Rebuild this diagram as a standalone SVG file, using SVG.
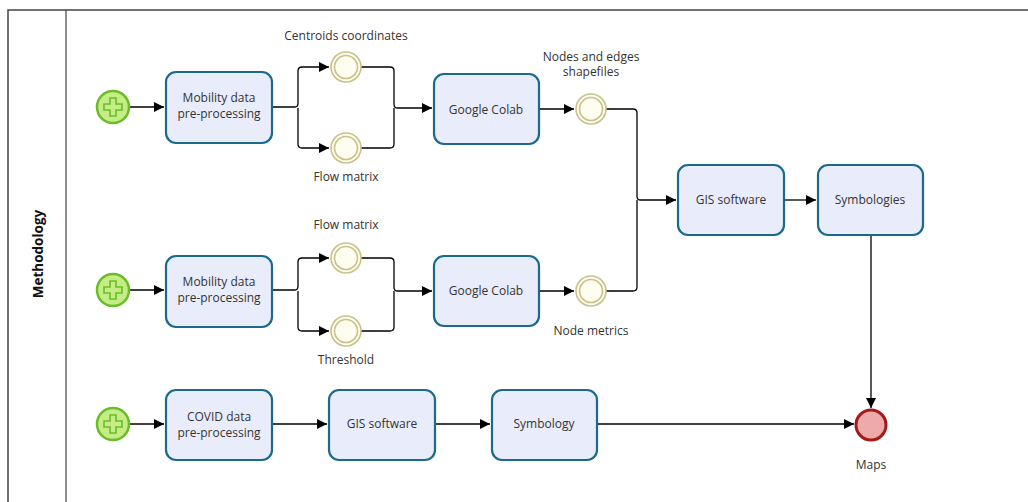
<svg xmlns="http://www.w3.org/2000/svg" width="1028" height="502" viewBox="0 0 1028 502">
<defs>
<marker id="arr" markerWidth="10" markerHeight="10" refX="10" refY="5" orient="auto" markerUnits="userSpaceOnUse">
<path d="M0,0 L10,5 L0,10 z" fill="#000"/>
</marker>
<path id="plus" d="M-3,-9 H3 V-3 H9 V3 H3 V9 H-3 V3 H-9 V-3 H-3 z"/>
</defs>
<style>
text{font-family:"Open Sans","Noto Sans","Liberation Sans",sans-serif;font-size:12px;fill:#333;text-anchor:middle}
.task{fill:#e9edfb;stroke:#1b6a8e;stroke-width:2.2}
.start{fill:#c5ec85;stroke:#6abd2a;stroke-width:2.5}
.plus{fill:none;stroke:#6abd2a;stroke-width:1.6}
.ev{fill:#fffcf0;stroke:#c8c28a;stroke-width:1.6}
.end{fill:#eeaaaa;stroke:#a31a1a;stroke-width:3}
.c{fill:none;stroke:#000;stroke-width:1.3}
.pool{fill:none;stroke:#444;stroke-width:1.5}
</style>
<g id="pool">
<path class="pool" d="M1028,10 H8 V502"/>
<path d="M66,10 V502" stroke="#444" stroke-width="1.2"/>
<text x="0" y="0" transform="translate(43,254) rotate(-90)" style="font-weight:bold;font-size:13.5px;fill:#111">Methodology</text>
</g>
<g id="connectors">
<path class="c" d="M129,107 H164" marker-end="url(#arr)"/>
<path class="c" d="M272,107 H295 q3,0 3,-4 V71 q0,-4 4,-4 H329" marker-end="url(#arr)"/>
<path class="c" d="M298,108 V144 q0,4 4,4 H329" marker-end="url(#arr)"/>
<path class="c" d="M361,67 H390 q4,0 4,4 V104 q0,4 3,4 H432" marker-end="url(#arr)"/>
<path class="c" d="M361,148 H390 q4,0 4,-4 V108"/>
<path class="c" d="M539,109 H574" marker-end="url(#arr)"/>
<path class="c" d="M606,109 H633 q4,0 4,4 V196 q0,4 3,4 H676" marker-end="url(#arr)"/>
<path class="c" d="M606,291 H633 q4,0 4,-4 V200"/>
<path class="c" d="M784,200 H816" marker-end="url(#arr)"/>
<path class="c" d="M871,235 V408" marker-end="url(#arr)"/>
<path class="c" d="M129,290 H164" marker-end="url(#arr)"/>
<path class="c" d="M272,290 H295 q3,0 3,-4 V262 q0,-4 4,-4 H329" marker-end="url(#arr)"/>
<path class="c" d="M298,291 V327 q0,4 4,4 H329" marker-end="url(#arr)"/>
<path class="c" d="M361,258 H390 q4,0 4,4 V287 q0,4 3,4 H432" marker-end="url(#arr)"/>
<path class="c" d="M361,331 H390 q4,0 4,-4 V291"/>
<path class="c" d="M539,291 H574" marker-end="url(#arr)"/>
<path class="c" d="M129,424 H164" marker-end="url(#arr)"/>
<path class="c" d="M272,424 H327" marker-end="url(#arr)"/>
<path class="c" d="M435,424 H490" marker-end="url(#arr)"/>
<path class="c" d="M597,424 H854" marker-end="url(#arr)"/>
</g>
<g id="start1"><circle class="start" cx="113" cy="107" r="16"/><use href="#plus" x="113" y="107" class="plus"/></g>
<g id="start2"><circle class="start" cx="113" cy="290" r="16"/><use href="#plus" x="113" y="290" class="plus"/></g>
<g id="start3"><circle class="start" cx="113" cy="424" r="16"/><use href="#plus" x="113" y="424" class="plus"/></g>
<g id="task_mob1"><rect class="task" x="166" y="72" width="106" height="71" rx="10"/><text x="219" y="102">Mobility data</text><text x="219" y="118">pre-processing</text></g>
<g id="ev_centroids"><circle class="ev" cx="346" cy="67" r="15"/><circle class="ev" cx="346" cy="67" r="11.5"/><text x="346" y="40">Centroids coordinates</text></g>
<g id="ev_flow1"><circle class="ev" cx="346" cy="148" r="15"/><circle class="ev" cx="346" cy="148" r="11.5"/><text x="346" y="181">Flow matrix</text></g>
<g id="task_colab1"><rect class="task" x="434" y="74" width="105" height="70" rx="10"/><text x="486" y="114">Google Colab</text></g>
<g id="ev_nodes"><circle class="ev" cx="591" cy="109" r="15"/><circle class="ev" cx="591" cy="109" r="11.5"/><text x="591" y="61">Nodes and edges</text><text x="591" y="76">shapefiles</text></g>
<g id="task_gis1"><rect class="task" x="678" y="165" width="106" height="70" rx="10"/><text x="731" y="204">GIS software</text></g>
<g id="task_symbologies"><rect class="task" x="818" y="165" width="105" height="70" rx="10"/><text x="870" y="204">Symbologies</text></g>
<g id="task_mob2"><rect class="task" x="166" y="256" width="106" height="71" rx="10"/><text x="219" y="286">Mobility data</text><text x="219" y="302">pre-processing</text></g>
<g id="ev_flow2"><circle class="ev" cx="346" cy="258" r="15"/><circle class="ev" cx="346" cy="258" r="11.5"/><text x="346" y="229">Flow matrix</text></g>
<g id="ev_threshold"><circle class="ev" cx="346" cy="331" r="15"/><circle class="ev" cx="346" cy="331" r="11.5"/><text x="346" y="364">Threshold</text></g>
<g id="task_colab2"><rect class="task" x="434" y="256" width="105" height="70" rx="10"/><text x="486" y="295">Google Colab</text></g>
<g id="ev_nodemetrics"><circle class="ev" cx="591" cy="291" r="15"/><circle class="ev" cx="591" cy="291" r="11.5"/><text x="591" y="335">Node metrics</text></g>
<g id="task_covid"><rect class="task" x="166" y="390" width="106" height="70" rx="10"/><text x="219" y="421">COVID data</text><text x="219" y="437">pre-processing</text></g>
<g id="task_gis2"><rect class="task" x="329" y="390" width="106" height="70" rx="10"/><text x="382" y="428">GIS software</text></g>
<g id="task_symbology"><rect class="task" x="492" y="390" width="105" height="70" rx="10"/><text x="544" y="428">Symbology</text></g>
<g id="end_maps"><circle class="end" cx="871" cy="425" r="15"/><text x="871" y="469">Maps</text></g>
</svg>
